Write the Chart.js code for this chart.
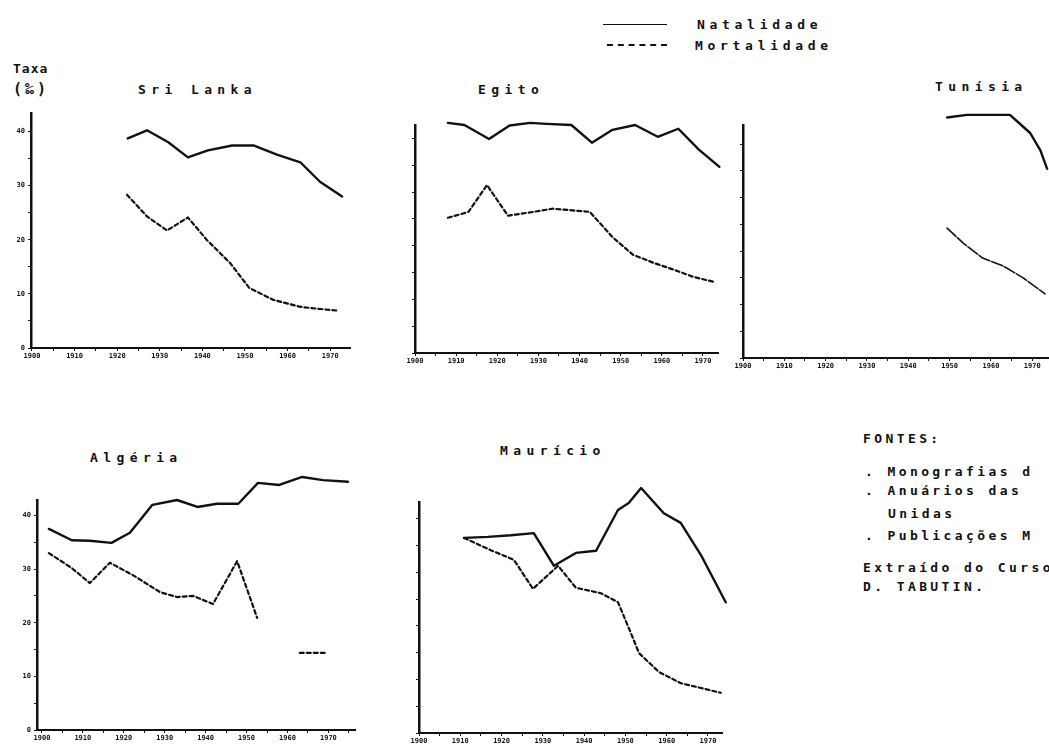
<!DOCTYPE html>
<html>
<head>
<meta charset="utf-8">
<script src="https://cdn.jsdelivr.net/npm/chart.js@4"></script>
<style>
  body { margin: 0; background: #fff; overflow: hidden; }
  #page { position: relative; width: 1049px; height: 749px; overflow: hidden; background: #fff; }
  #page canvas { position: absolute; }
  .txt {
    position: absolute; white-space: pre; color: #111;
    font-family: "DejaVu Sans Mono", monospace; font-weight: bold;
    font-size: 13px; line-height: 13px;
  }
  .title { letter-spacing: 5.4px; }
  .src { letter-spacing: 3.4px; }
  .leg { letter-spacing: 4.7px; }
  .legline { position: absolute; height: 0; }
</style>
</head>
<body>
<div id="page">
  <div class="legline" style="left:603px; top:24px; width:64px; border-top:1.5px solid #111;"></div>
  <div class="legline" style="left:607px; top:44px; width:60px; border-top:2.5px dashed #111;"></div>
  <div class="txt leg" style="left:697px; top:18px;">Natalidade</div>
  <div class="txt leg" style="left:695px; top:39px;">Mortalidade</div>

  <div class="txt" style="left:13px; top:62px; letter-spacing:1px;">Taxa</div>
  <div class="txt" style="left:13px; top:82px; font-size:15px; line-height:15px; letter-spacing:3px;">(‰)</div>

  <div class="txt title" style="left:138px; top:83px;">Sri Lanka</div>
  <div class="txt title" style="left:478px; top:83px;">Egito</div>
  <div class="txt title" style="left:935px; top:80px;">Tunísia</div>
  <div class="txt title" style="left:90px; top:451px;">Algéria</div>
  <div class="txt title" style="left:500px; top:444px;">Maurício</div>

  <div class="txt src" style="left:863px; top:432px;">FONTES:</div>
  <div class="txt src" style="left:865px; top:465px;">. Monografias d</div>
  <div class="txt src" style="left:865px; top:484px;">. Anuários das</div>
  <div class="txt src" style="left:888px; top:507px;">Unidas</div>
  <div class="txt src" style="left:865px; top:529px;">. Publicações M</div>
  <div class="txt src" style="left:863px; top:561px;">Extraído do Curso (</div>
  <div class="txt src" style="left:863px; top:580px;">D. TABUTIN.</div>
</div>
<script>
// ticks
const tickYears = [1900, 1910, 1920, 1930, 1940, 1950, 1960, 1970];
const yearMarks = [1900, 1905, 1910, 1915, 1920, 1925, 1930, 1935, 1940, 1945, 1950, 1955, 1960, 1965, 1970, 1975];
const rateTicks = [0, 10, 20, 30, 40];
const rateMarks = [0, 5, 10, 15, 20, 25, 30, 35, 40];

// Sri Lanka
const sriNatYears = [1922.5, 1927, 1932, 1936.6, 1941.3, 1947, 1952, 1957.5, 1963, 1967.6, 1972.8];
const sriNat = [38.7, 40.2, 38.0, 35.2, 36.5, 37.4, 37.4, 35.7, 34.3, 30.7, 28.0];
const sriMortYears = [1922.3, 1927, 1931.7, 1936.6, 1941, 1946.5, 1951, 1956.6, 1963, 1967.6, 1971.8];
const sriMort = [28.3, 24.3, 21.7, 24.1, 20.0, 15.7, 11.1, 8.9, 7.6, 7.2, 6.9];

// Egito
const egNatYears = [1908, 1912, 1918, 1923, 1928, 1932, 1938, 1943, 1948, 1953.5, 1959, 1964, 1969, 1974];
const egNat = [42.9, 42.5, 39.9, 42.4, 42.9, 42.7, 42.5, 39.2, 41.6, 42.5, 40.3, 41.8, 37.9, 34.7];
const egMortYears = [1908, 1913, 1917.5, 1922.6, 1928.7, 1933.5, 1942.5, 1948, 1953, 1958, 1963, 1967.6, 1973];
const egMort = [25.2, 26.3, 31.3, 25.6, 26.3, 26.9, 26.3, 21.6, 18.3, 16.8, 15.5, 14.2, 13.2];

// Tunisia
const tnNatYears = [1949.4, 1954.2, 1964.6, 1969.5, 1972, 1973.6];
const tnNat = [45.0, 45.5, 45.5, 42.1, 38.8, 35.4];
const tnMortYears = [1949.4, 1953.3, 1958, 1963, 1967.8, 1973.1];
const tnMort = [24.3, 21.5, 18.7, 17.2, 15.0, 12.0];

// Algeria (gap in mortality between 1953 and 1963)
const dzNatYears = [1901.7, 1907.3, 1911.7, 1917, 1921.5, 1927, 1933, 1938, 1942.8, 1948, 1952.8, 1958, 1963.6, 1968.7, 1974.8];
const dzNat = [37.5, 35.4, 35.3, 34.9, 36.8, 42.0, 42.9, 41.6, 42.2, 42.2, 46.1, 45.7, 47.2, 46.6, 46.3];
const dzMortYears = [1901.7, 1907.3, 1911.7, 1916.6, 1922.2, 1928.9, 1933, 1937, 1941.8, 1947.7, 1952.6, 1958, 1963, 1969.7];
const dzMort = [33.0, 30.2, 27.4, 31.2, 28.9, 25.7, 24.8, 25.0, 23.5, 31.5, 20.9, null, 14.4, 14.4];

// Mauricio
const muNatYears = [1910.9, 1916.7, 1922.3, 1927.8, 1932.7, 1938, 1942.9, 1948.2, 1950.8, 1953.8, 1959.3, 1963.4, 1968.3, 1974.3];
const muNat = [36.4, 36.6, 36.9, 37.3, 31.2, 33.6, 34.0, 41.6, 42.9, 45.7, 41.0, 39.2, 33.2, 24.4];
const muMortYears = [1910.9, 1917.4, 1923, 1927.6, 1933.7, 1938, 1944, 1948.2, 1951.3, 1953.3, 1958.1, 1963.4, 1968.3, 1973.1];
const muMort = [36.4, 34.1, 32.3, 26.9, 31.2, 27.1, 26.1, 24.4, 18.7, 14.9, 11.4, 9.3, 8.4, 7.5];

function pairs(xs, ys) {
  return xs.map((x, i) => ({ x: x, y: ys[i] }));
}

// panel geometry in page pixels: y axis x, x axis y, top of y axis, end of x axis
const panels = [
  { nat: pairs(sriNatYears, sriNat), mort: pairs(sriMortYears, sriMort), axisX: 31, axisY: 348, top: 113, right: 350, xmin: 1899.77, xmax: 1974.65, ymax: 43.4, rates: true, dash: [4, 3] },
  { nat: pairs(egNatYears, egNat), mort: pairs(egMortYears, egMort), axisX: 415, axisY: 353, top: 125, right: 718, xmin: 1900, xmax: 1973.65, ymax: 42.5, rates: false, dash: [4, 3] },
  { nat: pairs(tnNatYears, tnNat), mort: pairs(tnMortYears, tnMort), axisX: 743, axisY: 358, top: 125, right: 1062, xmin: 1900, xmax: 1977.2, ymax: 43.6, rates: false, dash: [12, 2], mortWidth: 1.6 },
  { nat: pairs(dzNatYears, dzNat), mort: pairs(dzMortYears, dzMort), axisX: 37, axisY: 730, top: 500, right: 355, xmin: 1898.8, xmax: 1976.5, ymax: 42.9, rates: true, dash: [4, 3] },
  { nat: pairs(muNatYears, muNat), mort: pairs(muMortYears, muMort), axisX: 419, axisY: 733, top: 502, right: 722, xmin: 1900, xmax: 1973.4, ymax: 43.1, rates: false, dash: [4, 3] }
];

const tickFont = { family: "DejaVu Sans Mono", size: 7, weight: "bold" };

function drawPanel(p) {
  const W = 30, T = 30, R = 6, H = 16;
  const cv = document.createElement("canvas");
  cv.width = p.right - p.axisX + W + R;
  cv.height = p.axisY - p.top + T + H;
  cv.style.left = (p.axisX - W) + "px";
  cv.style.top = (p.top - T) + "px";
  document.getElementById("page").appendChild(cv);

  new Chart(cv, {
    type: "line",
    data: {
      datasets: [
        { label: "Natalidade", data: p.nat, borderColor: "#111", borderWidth: 2.4, clip: false },
        { label: "Mortalidade", data: p.mort, borderColor: "#111", borderWidth: p.mortWidth || 2.2, borderDash: p.dash, clip: false, spanGaps: false }
      ]
    },
    options: {
      responsive: false,
      animation: false,
      devicePixelRatio: 1,
      layout: { padding: { top: T, right: R, left: 0, bottom: 0 } },
      plugins: { legend: { display: false }, tooltip: { enabled: false } },
      elements: { point: { radius: 0 }, line: { tension: 0, borderJoinStyle: "round", borderCapStyle: "round" } },
      scales: {
        x: {
          type: "linear", min: p.xmin, max: p.xmax,
          afterFit: (s) => { s.height = H; },
          afterBuildTicks: (s) => { s.ticks = yearMarks.filter(v => v >= s.min && v <= s.max).map(v => ({ value: v })); },
          border: { display: true, color: "#111", width: 2 },
          grid: { drawOnChartArea: false, color: "#111", tickLength: 3, lineWidth: 1 },
          ticks: {
            autoSkip: false, maxRotation: 0, padding: 1, color: "#111", font: tickFont,
            callback: (v) => tickYears.includes(v) ? String(v) : ""
          }
        },
        y: {
          min: 0, max: p.ymax,
          afterFit: (s) => { s.width = W; },
          afterBuildTicks: (s) => { s.ticks = rateMarks.filter(v => v <= s.max).map(v => ({ value: v })); },
          border: { display: true, color: "#111", width: 2.5 },
          grid: { drawOnChartArea: false, color: "#111", tickLength: 3, lineWidth: 1 },
          ticks: {
            padding: 3, color: "#111", font: tickFont,
            callback: (v) => (p.rates && rateTicks.includes(v)) ? String(v) : ""
          }
        }
      }
    }
  });
}

panels.forEach(drawPanel);
</script>
</body>
</html>
